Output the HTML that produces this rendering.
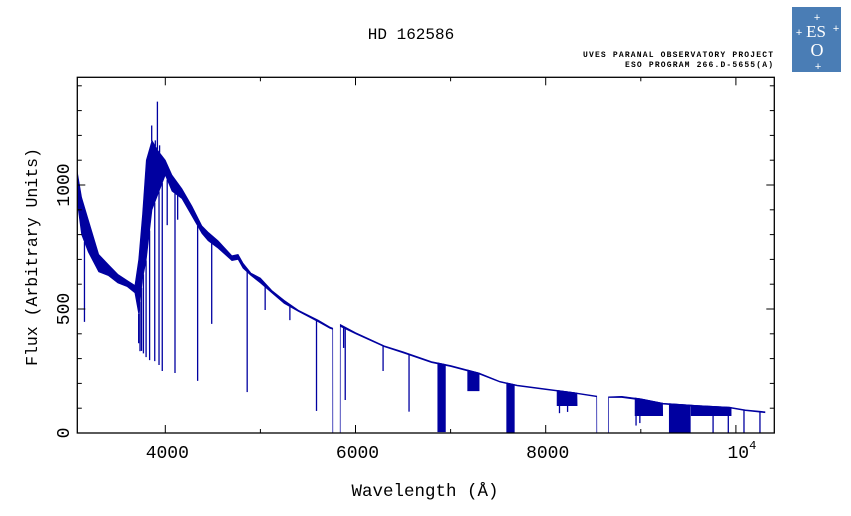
<!DOCTYPE html>
<html><head><meta charset="utf-8"><style>
body{margin:0;background:#fff;width:851px;height:511px;overflow:hidden}
svg text{font-family:"Liberation Mono",monospace;fill:#000}
</style></head><body>
<svg id="chart" width="851" height="511" xmlns="http://www.w3.org/2000/svg">
<text x="411" y="39" font-size="16" text-anchor="middle">HD 162586</text>
<text x="773" y="57" font-size="8" font-weight="bold" text-anchor="end" textLength="190">UVES PARANAL OBSERVATORY PROJECT</text>
<text x="773" y="67" font-size="8" font-weight="bold" text-anchor="end" textLength="148">ESO PROGRAM 266.D-5655(A)</text>
<g>
<rect x="792" y="7" width="49" height="65" fill="#4a7db5"/>
<text x="816" y="37" font-size="17" text-anchor="middle" style="fill:#fff;font-family:'Liberation Serif',serif">ES</text>
<text x="817" y="56" font-size="18" text-anchor="middle" style="fill:#fff;font-family:'Liberation Serif',serif">O</text>
<text x="817" y="21" font-size="11" text-anchor="middle" style="fill:#fff">+</text>
<text x="799" y="36" font-size="11" text-anchor="middle" style="fill:#fff">+</text>
<text x="836" y="32" font-size="11" text-anchor="middle" style="fill:#fff">+</text>
<text x="818" y="70" font-size="11" text-anchor="middle" style="fill:#fff">+</text>
</g>
<text x="425" y="496" font-size="17.5" text-anchor="middle">Wavelength (Å)</text>
<text transform="translate(37,257) rotate(-90)" font-size="16.5" text-anchor="middle">Flux (Arbitrary Units)</text>
<defs><clipPath id="pc"><rect x="77.3" y="77.3" width="697" height="355.7"/></clipPath></defs>
<g id="marks" clip-path="url(#pc)"></g>
<g id="axes"></g>
</svg>
<script>
const waves =  [3071,3120,3190,3300,3400,3500,3600,3680,3720,3760,3800,3860,3920,4000,4070,4175,4280,4385,4450,4555,4700,4765,4817,4900,5000,5120,5250,5400,5610,5730,5760,5761,5839,5840,6000,6300,6500,6800,7000,7300,7520,7700,8000,8300,8536,8537,8659,8660,8800,9000,9233,9588,9938,10100,10305];
const fluxHi = [1060,950,860,720,680,640,615,595,700,880,1100,1180,1140,1100,1040,985,915,835,810,775,715,720,685,645,625,575,535,495,455,428,423,0,0,438,405,352,328,288,272,242,208,193,178,163,149,0,0,146,148,138,120,111,104,93,86];
const fluxLo = [940,800,730,650,635,605,590,565,480,620,700,900,960,1040,975,945,875,805,775,745,695,700,665,635,605,565,522,490,448,422,418,0,0,430,400,348,323,284,268,238,205,190,175,160,146,0,0,143,143,133,116,107,101,90,82];
const lineWaves =  [3150,3720,3734,3750,3770,3798,3835,3889,3934,3968,4020,4102,4130,4340,4488,4861,5050,5310,5590,5875,5892,6290,6563,8145,8230,8950,8990,9760,9920,10085,10253];
const lineDepths = [448,362,330,331,321,306,294,290,274,250,838,242,860,210,440,165,496,455,89,343,133,250,86,80,85,30,40,0,0,0,0];
const spikeWaves = [3857,3895,3917,3940];
const spikeFlux  = [1240,1180,1336,1160];
const bandStart = [6865,7180,7590,8120,8940,9300,9530];
const bandEnd   = [6945,7300,7670,8330,9230,9520,9950];
const bandMin   = [5,170,0,110,70,0,70];
const xTicks = [4000,6000,8000,10000];
const xTickLabels = ["4000","6000","8000","10"];
const yTicks = [0,500,1000];
const yTickLabels = ["0","500","1000"];

const NS="http://www.w3.org/2000/svg";
const X0=77.3,X1=774.3,Y0=77.3,Y1=433;
function xs(w){return 165.3+(w-4000)*0.0951;}
function ys(f){return 433-f*0.248;}
function interp(w,arr){
  if(w<=waves[0])return arr[0];
  for(let i=1;i<waves.length;i++){if(w<=waves[i]){const a=waves[i-1],b=waves[i];const t=b===a?1:(w-a)/(b-a);return arr[i-1]+(arr[i]-arr[i-1])*t;}}
  return arr[arr.length-1];
}
function mk(tag,attrs,parent){const e=document.createElementNS(NS,tag);for(const k in attrs)e.setAttribute(k,attrs[k]);parent.appendChild(e);return e;}
const marks=document.getElementById('marks'),axes=document.getElementById('axes');
const C="#0000a0";
let pts=[];
for(let i=0;i<waves.length;i++)pts.push(xs(waves[i]).toFixed(1)+","+ys(fluxHi[i]).toFixed(1));
for(let i=waves.length-1;i>=0;i--)pts.push(xs(waves[i]).toFixed(1)+","+ys(fluxLo[i]).toFixed(1));
const env=mk('polygon',{points:pts.join(' '),fill:C,stroke:C,'stroke-width':0.7},marks);


for(let i=0;i<bandStart.length;i++){
  let p=[];
  for(let w=bandStart[i];w<=bandEnd[i];w+=4)p.push(xs(w).toFixed(1)+","+ys(interp(w,fluxHi)).toFixed(1));
  p.push(xs(bandEnd[i]).toFixed(1)+","+ys(bandMin[i]).toFixed(1));
  p.push(xs(bandStart[i]).toFixed(1)+","+ys(bandMin[i]).toFixed(1));
  const b=mk('polygon',{points:p.join(' '),fill:C,stroke:C,'stroke-width':0.7},marks);
  
  
}
for(let i=0;i<lineWaves.length;i++){
  const x=xs(lineWaves[i]);
  const l=mk('line',{x1:x,x2:x,y1:ys(interp(lineWaves[i],fluxLo)),y2:ys(lineDepths[i]),stroke:C,'stroke-width':1.3},marks);
  
  
}
for(let i=0;i<spikeWaves.length;i++){
  const x=xs(spikeWaves[i]);
  const l=mk('line',{x1:x,x2:x,y1:ys(interp(spikeWaves[i],fluxHi)),y2:ys(spikeFlux[i]),stroke:C,'stroke-width':1.3},marks);
  
  
}
const fr=mk('rect',{x:X0,y:Y0,width:X1-X0,height:Y1-Y0,fill:'none',stroke:'#000','stroke-width':1.3},axes);


for(let w=4000;w<=10000;w+=1000){
  const x=xs(w),L=(w%2000===0)?8:4;
  mk('line',{x1:x,x2:x,y1:Y1,y2:Y1-L,stroke:'#000','stroke-width':1},axes);
  mk('line',{x1:x,x2:x,y1:Y0,y2:Y0+L,stroke:'#000','stroke-width':1},axes);
}
for(let f=0;f<=1400;f+=100){
  const y=ys(f),L=(f%500===0)?8:4.5;
  mk('line',{x1:X0,x2:X0+L,y1:y,y2:y,stroke:'#000','stroke-width':1},axes);
  mk('line',{x1:X1,x2:X1-L,y1:y,y2:y,stroke:'#000','stroke-width':1},axes);
}
for(let i=0;i<xTicks.length;i++){
  const t=mk('text',{x:xs(xTicks[i])+2,y:458,'font-size':18,'text-anchor':'middle'},axes);
  t.textContent=xTickLabels[i];
  
  
  if(xTicks[i]===10000){const s=mk('tspan',{'font-size':12,dy:-9},t);s.textContent='4';t.setAttribute('x',xs(xTicks[i])+6);}
}
for(let i=0;i<yTicks.length;i++){
  const t=mk('text',{transform:`translate(69,${ys(yTicks[i])}) rotate(-90)`,'font-size':18,'text-anchor':'middle'},axes);
  t.textContent=yTickLabels[i];
  
  
}
</script>
</body></html>
